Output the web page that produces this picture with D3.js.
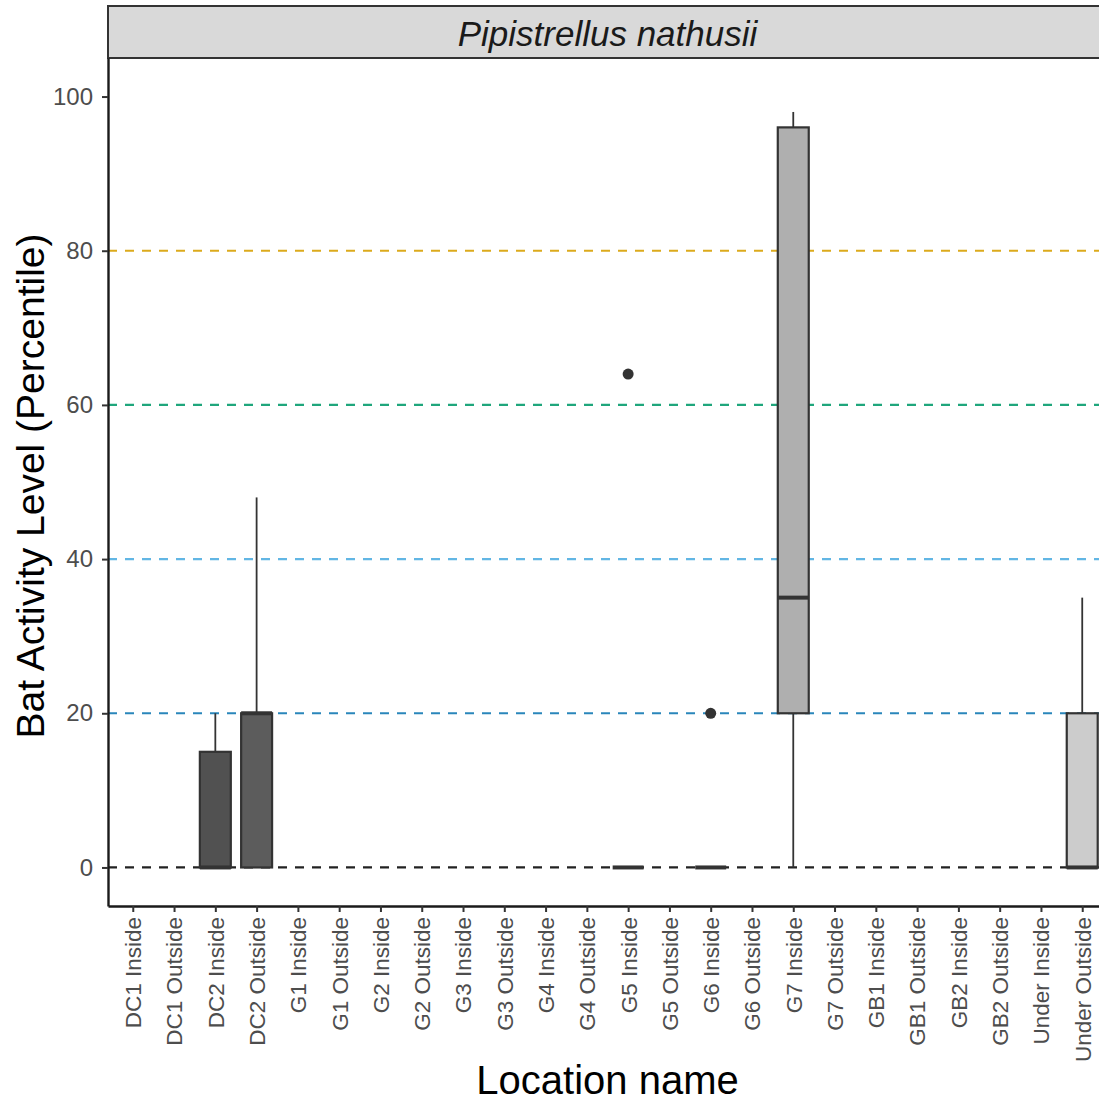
<!DOCTYPE html>
<html>
<head>
<meta charset="utf-8">
<script src="https://cdn.jsdelivr.net/npm/d3@7"></script>
<style>
  html, body { margin: 0; padding: 0; background: #fff; overflow: hidden; }
  svg { display: block; font-family: "Liberation Sans", Arial, sans-serif; }
</style>
</head>
<body>
<div id="chart"></div>
<script>
// categories on the x axis
const locations = [
  'DC1 Inside', 'DC1 Outside', 'DC2 Inside', 'DC2 Outside',
  'G1 Inside', 'G1 Outside', 'G2 Inside', 'G2 Outside',
  'G3 Inside', 'G3 Outside', 'G4 Inside', 'G4 Outside',
  'G5 Inside', 'G5 Outside', 'G6 Inside', 'G6 Outside',
  'G7 Inside', 'G7 Outside', 'GB1 Inside', 'GB1 Outside',
  'GB2 Inside', 'GB2 Outside', 'Under Inside', 'Under Outside'
];

// box statistics (only locations with records)
const boxLocations = ['DC2 Inside', 'DC2 Outside', 'G5 Inside', 'G6 Inside', 'G7 Inside', 'Under Outside'];
const whiskerLow   = [0, 0, 0, 0, 0, 0];
const q1           = [0, 0, 0, 0, 20, 0];
const median       = [0, 20, 0, 0, 35, 0];
const q3           = [15, 20, 0, 0, 96, 20];
const whiskerHigh  = [20, 48, 0, 0, 98, 35];

// outliers
const outlierLocations = ['G5 Inside', 'G6 Inside'];
const outlierValues    = [64, 20];

// reference lines
const thresholds = [0, 20, 40, 60, 80];
const thresholdColors = ['#222222', '#2a86bb', '#62b6e4', '#1fa67c', '#dcaa1c'];

const yTicks = [0, 20, 40, 60, 80, 100];

const W = 1099, H = 1101;
const panel = { left: 108, right: 1107, top: 58, bottom: 906 };

const svg = d3.select('#chart').append('svg')
  .attr('width', W).attr('height', H)
  .attr('viewBox', `0 0 ${W} ${H}`);

// scales
const x = d3.scalePoint()
  .domain(locations)
  .range([panel.left, panel.right])
  .padding(0.6);

const y = d3.scaleLinear()
  .domain([-5, 105])
  .range([panel.bottom, panel.top]);

const step = x.step();
const boxW = step * 0.75;

// grey fill per location, like scale_fill_grey
const g0 = Math.pow(0.2, 2.2), g1 = Math.pow(0.8, 2.2);
const fill = d3.scaleOrdinal()
  .domain(locations)
  .range(locations.map((d, i) => {
    const v = Math.round(255 * Math.pow(g0 + (g1 - g0) * i / (locations.length - 1), 1 / 2.2));
    return d3.rgb(v, v, v).formatHex();
  }));

// strip
svg.append('rect')
  .attr('x', panel.left).attr('y', 6)
  .attr('width', panel.right - panel.left + 10).attr('height', panel.top - 6)
  .attr('fill', '#d9d9d9')
  .attr('stroke', '#333').attr('stroke-width', 2);

svg.append('text')
  .attr('x', (panel.left + panel.right) / 2)
  .attr('y', 33)
  .attr('text-anchor', 'middle')
  .attr('dominant-baseline', 'central')
  .style('font-size', '35px')
  .style('font-style', 'italic')
  .style('fill', '#1a1a1a')
  .text('Pipistrellus nathusii');

// reference lines (under the boxes)
svg.append('g').selectAll('line')
  .data(thresholds)
  .join('line')
  .attr('x1', panel.left).attr('x2', panel.right)
  .attr('y1', d => y(d)).attr('y2', d => y(d))
  .attr('stroke', (d, i) => thresholdColors[i])
  .attr('stroke-width', 2.2)
  .attr('stroke-dasharray', '9 8');

// boxes
const boxes = boxLocations.map((loc, i) => ({
  loc, lo: whiskerLow[i], q1: q1[i], med: median[i], q3: q3[i], hi: whiskerHigh[i]
}));

const bg = svg.append('g').selectAll('g')
  .data(boxes)
  .join('g');

bg.append('line')                 // upper whisker
  .attr('x1', d => x(d.loc)).attr('x2', d => x(d.loc))
  .attr('y1', d => y(d.q3)).attr('y2', d => y(d.hi))
  .attr('stroke', '#333').attr('stroke-width', 1.8);

bg.append('line')                 // lower whisker
  .attr('x1', d => x(d.loc)).attr('x2', d => x(d.loc))
  .attr('y1', d => y(d.q1)).attr('y2', d => y(d.lo))
  .attr('stroke', '#333').attr('stroke-width', 1.8);

bg.append('rect')
  .attr('x', d => x(d.loc) - boxW / 2)
  .attr('y', d => y(d.q3))
  .attr('width', boxW)
  .attr('height', d => y(d.q1) - y(d.q3))
  .attr('fill', d => fill(d.loc))
  .attr('stroke', '#333').attr('stroke-width', 2.2);

bg.append('line')                 // median
  .attr('x1', d => x(d.loc) - boxW / 2).attr('x2', d => x(d.loc) + boxW / 2)
  .attr('y1', d => y(d.med)).attr('y2', d => y(d.med))
  .attr('stroke', '#333').attr('stroke-width', 4);

// outliers
svg.append('g').selectAll('circle')
  .data(outlierLocations.map((loc, i) => ({ loc, v: outlierValues[i] })))
  .join('circle')
  .attr('cx', d => x(d.loc))
  .attr('cy', d => y(d.v))
  .attr('r', 5.5)
  .attr('fill', '#333');

// axes
const yAxis = svg.append('g')
  .attr('transform', `translate(${panel.left},0)`)
  .call(d3.axisLeft(y).tickValues(yTicks).tickSize(6).tickSizeOuter(0).tickPadding(9));
yAxis.select('.domain').attr('stroke', '#1a1a1a').attr('stroke-width', 2.4);
yAxis.selectAll('.tick line').attr('stroke', '#333').attr('stroke-width', 2);
yAxis.selectAll('.tick text')
  .style('font-size', '24px')
  .style('fill', '#4d4d4d')
  .style('font-family', '"Liberation Sans", Arial, sans-serif');

const xAxis = svg.append('g')
  .attr('transform', `translate(0,${panel.bottom})`)
  .call(d3.axisBottom(x).tickSize(6).tickSizeOuter(0).tickPadding(5));
xAxis.select('.domain').attr('stroke', '#1a1a1a').attr('stroke-width', 2.4);
xAxis.selectAll('.tick line').attr('stroke', '#333').attr('stroke-width', 2);
xAxis.selectAll('.tick text')
  .attr('transform', 'rotate(-90)')
  .attr('x', -11)
  .attr('y', 0)
  .attr('dy', '0.35em')
  .attr('text-anchor', 'end')
  .style('font-size', '22.5px')
  .style('fill', '#4d4d4d')
  .style('font-family', '"Liberation Sans", Arial, sans-serif');

// axis titles
svg.append('text')
  .attr('x', (panel.left + panel.right) / 2)
  .attr('y', 1094)
  .attr('text-anchor', 'middle')
  .style('font-size', '40px')
  .style('fill', '#000')
  .text('Location name');

svg.append('text')
  .attr('transform', `translate(30,${(panel.top + panel.bottom) / 2 + 4}) rotate(-90)`)
  .attr('text-anchor', 'middle')
  .attr('dominant-baseline', 'central')
  .style('font-size', '39px')
  .style('fill', '#000')
  .text('Bat Activity Level (Percentile)');
</script>
</body>
</html>
